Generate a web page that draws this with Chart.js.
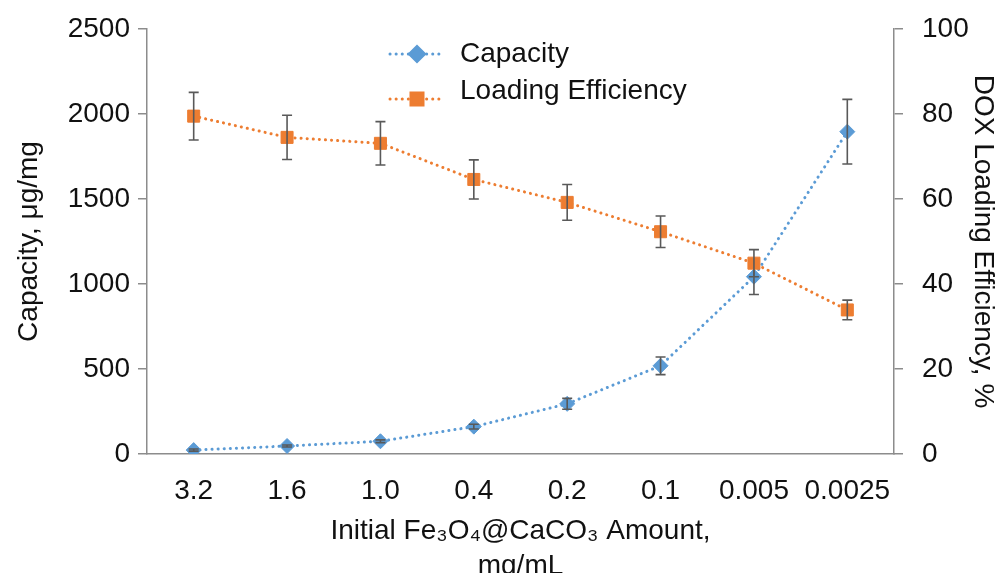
<!DOCTYPE html>
<html>
<head>
<meta charset="utf-8">
<script src="https://cdn.jsdelivr.net/npm/chart.js@4.4.1/dist/chart.umd.min.js"></script>
<style>
    html, body { margin: 0; padding: 0; background: #fff; }
    #wrap { width: 996px; height: 573px; }
</style>
</head>
<body>
<div id="wrap"><canvas id="chart" width="996" height="573"></canvas></div>
<script>
const amounts = ['3.2', '1.6', '1.0', '0.4', '0.2', '0.1', '0.005', '0.0025']
const capacity = [23, 47, 75, 161, 295, 519, 1043, 1896]
const capacityErr = [6, 6, 8, 14, 32, 52, 105, 190]
const efficiency = [79.5, 74.5, 73.1, 64.6, 59.2, 52.3, 44.9, 33.9]
const efficiencyErr = [5.6, 5.2, 5.1, 4.6, 4.2, 3.7, 3.2, 2.3]

const FONT = 'Liberation Sans, Arial, sans-serif'
const TEXT = '#111111'
const AXIS = '#8c8c8c'

// error bars, drawn right after each dataset so the next one can cover them
const errorBars = {
    id: 'errorBars',
    afterDatasetDraw(chart, args) {
        const ds = chart.data.datasets[args.index]
        if (!ds.errors) return
        const yScale = chart.scales[ds.yAxisID]
        const ctx = chart.ctx
        ctx.save()
        ctx.strokeStyle = '#595959'
        ctx.lineWidth = 1.6
        args.meta.data.forEach((pt, i) => {
            const top = yScale.getPixelForValue(ds.data[i] + ds.errors[i])
            const bot = yScale.getPixelForValue(ds.data[i] - ds.errors[i])
            ctx.beginPath()
            ctx.moveTo(pt.x, top)
            ctx.lineTo(pt.x, bot)
            ctx.moveTo(pt.x - 5, top)
            ctx.lineTo(pt.x + 5, top)
            ctx.moveTo(pt.x - 5, bot)
            ctx.lineTo(pt.x + 5, bot)
            ctx.stroke()
        })
        ctx.restore()
    }
}

// legend stacked inside the plot, like the excel one
const insideLegend = {
    id: 'insideLegend',
    afterDraw(chart, args, opts) {
        const ctx = chart.ctx
        for (const item of opts.items) {
            const ds = chart.data.datasets[item.dataset]
            ctx.save()
            ctx.strokeStyle = ds.borderColor
            ctx.lineWidth = ds.borderWidth
            ctx.lineCap = ds.borderCapStyle
            ctx.setLineDash(ds.borderDash)
            ctx.beginPath()
            ctx.moveTo(opts.x0, item.lineY)
            ctx.lineTo(opts.x1, item.lineY)
            ctx.stroke()
            ctx.setLineDash([])
            ctx.fillStyle = ds.pointBackgroundColor
            ctx.strokeStyle = ds.pointBorderColor
            Chart.helpers.drawPoint(ctx, {
                pointStyle: ds.pointStyle,
                radius: ds.pointRadius,
                borderWidth: ds.pointBorderWidth,
                rotation: 0
            }, (opts.x0 + opts.x1) / 2, item.lineY)
            ctx.fillStyle = TEXT
            ctx.font = '28px ' + FONT
            ctx.textBaseline = 'middle'
            ctx.textAlign = 'left'
            ctx.fillText(ds.label, opts.textX, item.textY)
            ctx.restore()
        }
    }
}

function createChart(ctx, data, type, options = {}, plugins = []) {
    return new Chart(ctx, {
        type: type,
        data: data,
        options: options,
        plugins: plugins
    })
}

createChart(
    document.getElementById('chart').getContext('2d'),
    {
        labels: amounts,
        datasets: [{
            label: 'Capacity',
            data: capacity,
            errors: capacityErr,
            yAxisID: 'y',
            order: 2,
            borderColor: '#5B9BD5',
            borderWidth: 3,
            borderDash: [0.1, 6],
            borderCapStyle: 'round',
            pointStyle: 'rectRot',
            pointRadius: 7.5,
            pointBorderWidth: 1,
            pointBackgroundColor: '#5B9BD5',
            pointBorderColor: '#5B9BD5',
            tension: 0
        }, {
            label: 'Loading Efficiency',
            data: efficiency,
            errors: efficiencyErr,
            yAxisID: 'y1',
            order: 1,
            borderColor: '#ED7D31',
            borderWidth: 3,
            borderDash: [0.1, 6],
            borderCapStyle: 'round',
            pointStyle: 'rect',
            pointRadius: 8.5,
            pointBorderWidth: 1,
            pointBackgroundColor: '#ED7D31',
            pointBorderColor: '#ED7D31',
            tension: 0
        }]
    },
    'line',
    {
        responsive: false,
        animation: false,
        layout: { padding: { top: 29, left: 0, right: 0, bottom: 0 } },
        plugins: {
            legend: { display: false },
            tooltip: { enabled: false },
            insideLegend: {
                x0: 390,
                x1: 444,
                textX: 460,
                items: [
                    { dataset: 0, lineY: 54, textY: 54 },
                    { dataset: 1, lineY: 99, textY: 91 }
                ]
            }
        },
        scales: {
            x: {
                offset: true,
                grid: { display: false, drawTicks: false },
                border: { display: true, color: AXIS, width: 1.5 },
                ticks: { color: TEXT, font: { family: FONT, size: 28 }, padding: 20, maxRotation: 0, autoSkip: false },
                title: {
                    display: true,
                    text: ['Initial Fe\u2083O\u2084@CaCO\u2083 Amount,', 'mg/mL'],
                    color: TEXT,
                    font: { family: FONT, size: 28, lineHeight: 1.25 },
                    padding: { top: 0, bottom: -11 }
                },
                afterFit: s => { s.height = 119 }
            },
            y: {
                position: 'left',
                min: 0,
                max: 2500,
                ticks: {
                    stepSize: 500,
                    color: TEXT,
                    font: { family: FONT, size: 28 },
                    padding: 8,
                    callback: v => String(v)
                },
                grid: { drawOnChartArea: false, drawTicks: true, tickLength: 9, color: AXIS, lineWidth: 1.5 },
                border: { display: true, color: AXIS, width: 1.5 },
                title: {
                    display: true,
                    text: 'Capacity, \u03bcg/mg',
                    color: TEXT,
                    font: { family: FONT, size: 28, lineHeight: 1.2 },
                    padding: { top: 12, bottom: 0 }
                },
                afterFit: s => {
                    s.width = 147
                    s.paddingTop = 0
                    s.paddingBottom = 0
                }
            },
            y1: {
                position: 'right',
                min: 0,
                max: 100,
                ticks: {
                    stepSize: 20,
                    color: TEXT,
                    font: { family: FONT, size: 28 },
                    padding: 19,
                    callback: v => String(v)
                },
                grid: { drawOnChartArea: false, drawTicks: true, tickLength: 9, color: AXIS, lineWidth: 1.5 },
                border: { display: true, color: AXIS, width: 1.5 },
                title: {
                    display: true,
                    text: 'DOX Loading Efficiency, %',
                    color: TEXT,
                    font: { family: FONT, size: 28, lineHeight: 0.95 },
                    padding: { top: 0, bottom: 0 }
                },
                afterFit: s => {
                    s.width = 102
                    s.paddingTop = 0
                    s.paddingBottom = 0
                }
            }
        }
    },
    [errorBars, insideLegend]
)
</script>
</body>
</html>
